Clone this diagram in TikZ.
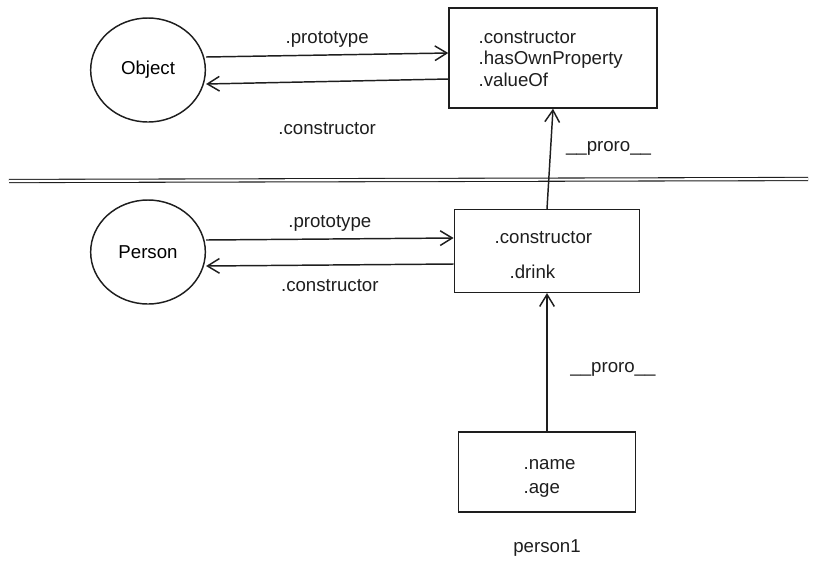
\documentclass[tikz,border=0pt]{standalone}
\usepackage{fontspec}
\setmainfont{Liberation Sans}
\usetikzlibrary{arrows.meta,positioning,shapes.geometric}
\definecolor{skInk}{HTML}{1E1E1E}

\begin{document}
\begin{tikzpicture}[x=0.75pt,y=-0.75pt,>={Straight Barb[length=9pt,width=11pt]},
  font=\fontsize{14}{16}\selectfont,
  ctor/.style={ellipse,draw=skInk,line width=1.1pt,minimum width=86pt,minimum height=78pt},
  protobox/.style={draw=skInk,line width=1.1pt,inner sep=0pt},
  link/.style={->,skInk,line width=1.1pt},
  lbl/.style={text=skInk,inner sep=1pt}]
\useasboundingbox (0,0) rectangle (817,569);
% top: Object and its prototype
\node[ctor] (object) at (148,70) {Object};
\node[protobox,minimum width=156pt,minimum height=75pt] (objproto) at (553,58) {};
\node[lbl,align=left,anchor=west] (objprops) at (477,59) {.constructor\\.hasOwnProperty\\.valueOf};
\draw[link] (object.east |- 0,57) -- node[lbl,above=4pt] {.prototype} (objproto.west |- 0,53);
\draw[link] (objproto.west |- 0,79) -- node[lbl,below=29pt] {.constructor} (object.east |- 0,84);
% separator
\draw[skInk,double,double distance=1.6pt,line width=0.8pt] (9,181) -- (808,179);
% middle: Person and its prototype
\node[ctor] (person) at (148,252) {Person};
\node[protobox,minimum width=139pt,minimum height=62pt] (perproto) at (547,251) {};
\node[lbl,anchor=west] (perctor) at (493,238) {.constructor};
\node[lbl,anchor=west] (perdrink) at (508,272) {.drink};
\draw[link] (person.east |- 0,240) -- node[lbl,above=4pt] {.prototype} (perproto.west |- 0,238);
\draw[link] (perproto.west |- 0,264) -- node[lbl,below=9pt] {.constructor} (person.east |- 0,266);
\draw[link] (perproto.north) -- node[lbl,right=10pt,pos=0.6] {\_\_proro\_\_} (objproto.south);
% bottom: instance
\node[protobox,minimum width=133pt,minimum height=60pt] (inst) at (547,472) {};
\node[lbl,anchor=west] (instname) at (522,465) {.name};
\node[lbl,anchor=west] (instage) at (522,490) {.age};
\node[lbl] (instlbl) at (547,548) {person1};
\draw[link] (inst.north) -- node[lbl,right=16pt,pos=0.45] {\_\_proro\_\_} (perproto.south);
\end{tikzpicture}
\end{document}
